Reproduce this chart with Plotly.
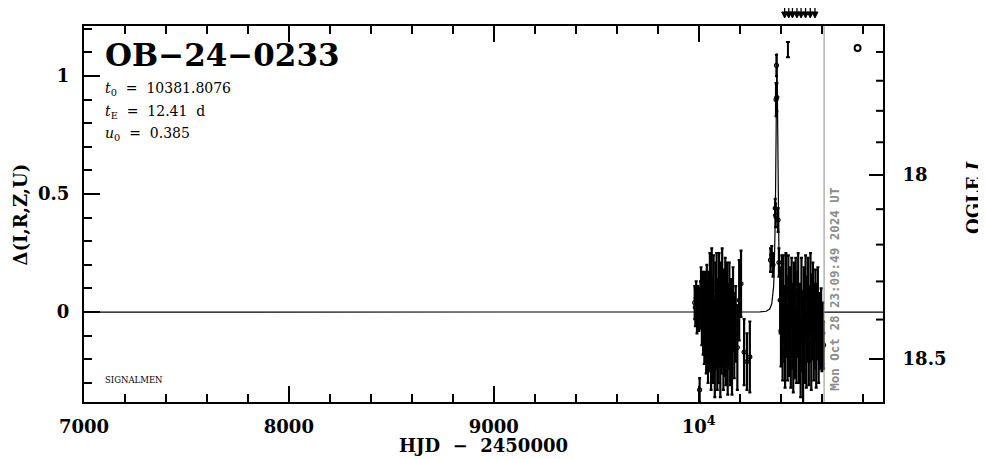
import plotly.graph_objects as go

# ---------------- data ----------------
# OGLE photometry, 2023 season: HJD-2450000, delta flux, error
s23_hjd = [9981, 9984, 9988, 9992, 9996, 10001, 10005, 10009, 10012, 10016, 10019, 10022,
           10025, 10028, 10031, 10034, 10037, 10040, 10043, 10046, 10049, 10052, 10055, 10058,
           10061, 10064, 10067, 10070, 10073, 10076, 10079, 10082, 10085, 10088, 10091, 10094,
           10097, 10100, 10103, 10106, 10109, 10112, 10115, 10118, 10121, 10124, 10127, 10130,
           10133, 10136, 10139, 10142, 10146, 10150, 10154, 10158, 10163, 10168, 10174, 10181,
           10189, 10198, 10207, 10222, 10236, 10250]
s23_delta = [0.04, 0.02, 0.06, -0.01, 0.05, 0.01, -0.33, 0.03, 0.08, -0.02, 0.04, -0.06,
             0.02, -0.09, 0.05, -0.04, -0.12, 0.07, -0.03, -0.15, 0.03, -0.08, 0.10, -0.05,
             -0.18, 0.11, -0.02, -0.14, 0.06, -0.10, -0.20, 0.04, -0.06, 0.09, -0.16, -0.01,
             -0.12, 0.08, -0.07, -0.19, 0.03, -0.11, 0.10, -0.04, -0.17, 0.01, -0.09, 0.07,
             -0.14, -0.03, 0.05, -0.18, -0.06, 0.04, -0.13, -0.02, -0.16, 0.02, -0.10, -0.05,
             -0.15, 0.05, 0.12, -0.17, -0.21, -0.19]
s23_err = [0.07, 0.08, 0.07, 0.08, 0.06, 0.09, 0.05, 0.10, 0.11, 0.12, 0.13, 0.12,
           0.14, 0.13, 0.12, 0.15, 0.14, 0.13, 0.16, 0.15, 0.14, 0.17, 0.15, 0.16,
           0.15, 0.16, 0.17, 0.16, 0.18, 0.15, 0.16, 0.17, 0.18, 0.16, 0.17, 0.15,
           0.18, 0.17, 0.16, 0.17, 0.18, 0.15, 0.17, 0.19, 0.16, 0.17, 0.18, 0.16,
           0.17, 0.18, 0.16, 0.17, 0.18, 0.17, 0.18, 0.16, 0.19, 0.17, 0.18, 0.16,
           0.18, 0.17, 0.14, 0.14, 0.12, 0.15]

# OGLE photometry, 2024 season: event points
ev_hjd = [10351, 10357, 10363, 10374, 10376, 10378, 10380, 10382, 10388, 10392]
ev_delta = [0.22, 0.24, 0.20, 0.44, 0.41, 0.90, 1.045, 0.91, 0.39, 0.21]
ev_err = [0.05, 0.04, 0.05, 0.04, 0.05, 0.07, 0.045, 0.06, 0.05, 0.06]

# OGLE photometry, 2024 season: after the event
s24_hjd = [10398, 10402, 10406, 10410, 10414, 10418, 10422, 10426, 10430, 10434, 10438, 10442,
           10446, 10450, 10454, 10458, 10462, 10466, 10470, 10474, 10478, 10482, 10486, 10490,
           10494, 10498, 10502, 10506, 10510, 10514, 10518, 10522, 10526, 10530, 10534, 10538,
           10542, 10546, 10550, 10554, 10558, 10562, 10566, 10570, 10574, 10578, 10582, 10586,
           10590, 10594, 10598, 10602, 10606, 10610]
s24_delta = [0.05, -0.08, 0.08, -0.12, 0.06, -0.05, -0.17, 0.09, -0.02, -0.13, 0.07, -0.09,
             0.03, -0.15, 0.08, -0.06, -0.18, 0.04, -0.10, 0.06, -0.14, -0.01, 0.08, -0.12,
             -0.04, -0.19, 0.05, -0.08, -0.21, 0.03, -0.11, 0.07, -0.16, -0.03, 0.06, -0.13,
             -0.05, 0.08, -0.17, -0.02, 0.05, -0.12, -0.06, 0.03, -0.15, -0.04, 0.02, -0.14,
             -0.07, -0.10, -0.05, -0.13, -0.09, -0.14]
s24_err = [0.14, 0.15, 0.16, 0.17, 0.18, 0.16, 0.15, 0.16, 0.17, 0.16, 0.17, 0.18,
           0.16, 0.17, 0.15, 0.18, 0.16, 0.17, 0.18, 0.17, 0.16, 0.18, 0.17, 0.18,
           0.16, 0.17, 0.18, 0.17, 0.18, 0.16, 0.19, 0.17, 0.16, 0.18, 0.17, 0.18,
           0.16, 0.17, 0.16, 0.18, 0.16, 0.17, 0.18, 0.15, 0.17, 0.16, 0.17, 0.16,
           0.15, 0.14, 0.15, 0.12, 0.13, 0.10]

# Microlensing model curve
model_hjd = [7000, 10250, 10300, 10330, 10347, 10357, 10362, 10366, 10369, 10372, 10374,
             10376, 10378, 10380, 10381.8, 10383.8, 10385.8, 10387.8, 10389.8, 10391.8,
             10394.8, 10397.8, 10401.8, 10406.8, 10416.8, 10431.8, 10461.8, 10530, 10900]
model_delta = [0.0, 0.0, 0.0006, 0.0034, 0.0128, 0.035, 0.066, 0.107, 0.175, 0.28, 0.39,
               0.549, 0.764, 0.999, 1.096, 0.978, 0.741, 0.530, 0.377, 0.271,
               0.171, 0.104, 0.065, 0.035, 0.0126, 0.0038, 0.0006, 0.0, 0.0]

# markers near the top
typ_err_hjd = [10436]
typ_err_delta = [1.112]
typ_err_err = [0.032]
sym_hjd = [10776]
sym_delta = [1.119]
arrow_hjd = [10420, 10440, 10458, 10480, 10500, 10522, 10545, 10568]

now_hjd = 10612.465
now_text = "Mon Oct 28 23:09:49 2024 UT"

event_name = "OB\u221224\u22120233"
param_lines = ["<i>t</i><sub>0</sub>  =  10381.8076",
               "<i>t</i><sub>E</sub>  =  12.41  d",
               "<i>u</i><sub>0</sub>  =  0.385"]

x_range = [7000, 10900]
y_range = [-0.381, 1.212]
x_major = [7000, 8000, 9000, 10000]
x_major_text = ["7000", "8000", "9000", "10<sup>4</sup>"]
y_major = [0, 0.5, 1]
y_major_text = ["0", "0.5", "1"]

mag_major = [18.0, 18.5]
mag_major_text = ["18", "18.5"]
mag_minor = [17.6, 17.7, 17.8, 17.9, 18.1, 18.2, 18.3, 18.4]
# mapping OGLE I magnitude -> delta axis (fitted to the reference ticks)
MAG_REF, C0, C1, C2 = 18.0, 0.5805, -1.4172, -0.2836


def mag_to_delta(m):
    d = m - MAG_REF
    return C0 + C1 * d + C2 * d * d


# layout geometry (pixels); the page adds an 8px body margin
W, H = 978, 451
ML, MR, MT, MB = 76, 103, 18, 57
PLOT_W = W - ML - MR
PLOT_H = H - MT - MB
DAYS_PER_PX = (x_range[1] - x_range[0]) / PLOT_W


def paper_y_above(px):
    """paper y coordinate `px` pixels above the top of the frame"""
    return 1 + px / PLOT_H


FONT = "DejaVu Serif"

fig = go.Figure()

err_style = dict(type="data", color="black", thickness=2.2, width=1.5)

fig.add_trace(go.Scatter(
    x=model_hjd, y=model_delta, mode="lines",
    line=dict(color="black", width=1.2), hoverinfo="skip", showlegend=False))

for xs, ys, es in [(s23_hjd, s23_delta, s23_err),
                   (ev_hjd, ev_delta, ev_err),
                   (s24_hjd, s24_delta, s24_err)]:
    fig.add_trace(go.Scatter(
        x=xs, y=ys, mode="markers",
        marker=dict(symbol="circle-open", size=4, color="black", line=dict(width=1.2, color="black")),
        error_y=dict(array=es, **err_style), showlegend=False))

fig.add_trace(go.Scatter(
    x=typ_err_hjd, y=typ_err_delta, mode="markers",
    marker=dict(size=1, color="black"),
    error_y=dict(type="data", array=typ_err_err, color="black", thickness=2, width=2),
    showlegend=False))

fig.add_trace(go.Scatter(
    x=sym_hjd, y=sym_delta, mode="markers", yaxis="y2",
    marker=dict(symbol="circle-open", size=6, color="black", line=dict(width=2, color="black")),
    showlegend=False))

# arrows above the frame (shapes are not clipped vertically when yref is paper)
for xa in arrow_hjd:
    fig.add_shape(type="line", xref="x", yref="paper", x0=xa, x1=xa,
                  y0=paper_y_above(26), y1=paper_y_above(9),
                  line=dict(color="black", width=1.3))
    hw = 3 * DAYS_PER_PX
    fig.add_shape(type="path", xref="x", yref="paper",
                  path=f"M {xa - hw},{paper_y_above(14)} L {xa + hw},{paper_y_above(14)} "
                       f"L {xa},{paper_y_above(8)} Z",
                  fillcolor="black", line=dict(color="black", width=1))

# short unlabelled magnitude ticks on the right frame
MINOR_TICK_PX = 7
for m in mag_minor:
    yv = mag_to_delta(m)
    fig.add_shape(type="line", xref="paper", yref="y", x0=1 - MINOR_TICK_PX / PLOT_W, x1=1,
                  y0=yv, y1=yv, line=dict(color="black", width=2))

axis_font = dict(family=FONT, size=18, color="black", weight="bold")

fig.update_layout(
    width=W, height=H,
    margin=dict(l=ML, r=MR, t=MT, b=MB, autoexpand=False),
    paper_bgcolor="white", plot_bgcolor="white",
    showlegend=False,
    xaxis=dict(
        range=x_range, showgrid=False, zeroline=False, automargin=False,
        showline=True, linecolor="black", linewidth=2, mirror="ticks",
        ticks="inside", ticklen=16, tickwidth=2, tickcolor="black",
        tickmode="array", tickvals=x_major, ticktext=x_major_text,
        tickfont=axis_font, ticklabelstandoff=7,
        minor=dict(tickmode="array",
                   tickvals=[v for v in range(7200, 10900, 200) if v % 1000],
                   ticks="inside", ticklen=8, tickwidth=2, tickcolor="black"),
    ),
    yaxis=dict(
        range=y_range, showgrid=False, zeroline=False, automargin=False,
        showline=True, linecolor="black", linewidth=2,
        ticks="inside", ticklen=16, tickwidth=2, tickcolor="black",
        tickmode="array", tickvals=y_major, ticktext=y_major_text,
        tickfont=axis_font, ticklabelstandoff=9,
        minor=dict(tickmode="array",
                   tickvals=[-0.3, -0.2, -0.1, 0.1, 0.2, 0.3, 0.4, 0.6, 0.7, 0.8, 0.9, 1.1, 1.2],
                   ticks="inside", ticklen=8, tickwidth=2, tickcolor="black"),
    ),
    # OGLE I magnitude scale: labelled ticks
    yaxis2=dict(
        range=y_range, overlaying="y", side="right", anchor="x", automargin=False,
        showgrid=False, zeroline=False,
        showline=True, linecolor="black", linewidth=2,
        ticks="inside", ticklen=14, tickwidth=2, tickcolor="black",
        tickmode="array", tickvals=[mag_to_delta(m) for m in mag_major], ticktext=mag_major_text,
        tickfont=axis_font, ticklabelstandoff=14,
    ),
)

# axis titles as annotations (paper coordinates)
fig.add_annotation(x=0.5, xref="paper", y=-0.117, yref="paper", xanchor="center",
                   yanchor="middle", text="HJD  \u2212  2450000", showarrow=False, font=axis_font)
fig.add_annotation(x=-0.0795, xref="paper", y=0.5, yref="paper", textangle=-90,
                   xanchor="center", yanchor="middle",
                   text="\u0394(I,R,Z,U)", showarrow=False, font=axis_font)
fig.add_annotation(x=1.1125, xref="paper", y=0.545, yref="paper", textangle=-90,
                   xanchor="center", yanchor="middle",
                   text="OGLE <i>I</i>", showarrow=False, font=axis_font)

# "now" marker line
fig.add_shape(type="line", xref="x", yref="paper", x0=now_hjd, x1=now_hjd, y0=0, y1=1,
              line=dict(color="#8c8c8c", width=1))
fig.add_annotation(x=now_hjd, xref="x", y=0.30, yref="paper", text=now_text,
                   textangle=-90, showarrow=False, xanchor="left", yanchor="middle",
                   xshift=1, font=dict(family="DejaVu Sans Mono", size=12.5, color="#8c8c8c",
                                       weight="bold"))

# title and parameters
fig.add_annotation(x=0.0238, xref="paper", y=0.923, yref="paper", text=event_name,
                   showarrow=False, xanchor="left", yanchor="middle",
                   font=dict(family=FONT, size=31, color="black", weight="bold"))
for i, line in enumerate(param_lines):
    fig.add_annotation(x=0.0238, xref="paper", y=0.832 - 0.06 * i, yref="paper", text=line,
                       showarrow=False, xanchor="left", yanchor="middle",
                       font=dict(family=FONT, size=14, color="black"))
fig.add_annotation(x=0.0238, xref="paper", y=0.0585, yref="paper", text="SIGNALMEN",
                   showarrow=False, xanchor="left", yanchor="middle",
                   font=dict(family=FONT, size=8.5, color="black"))

fig.write_html("out.html")
